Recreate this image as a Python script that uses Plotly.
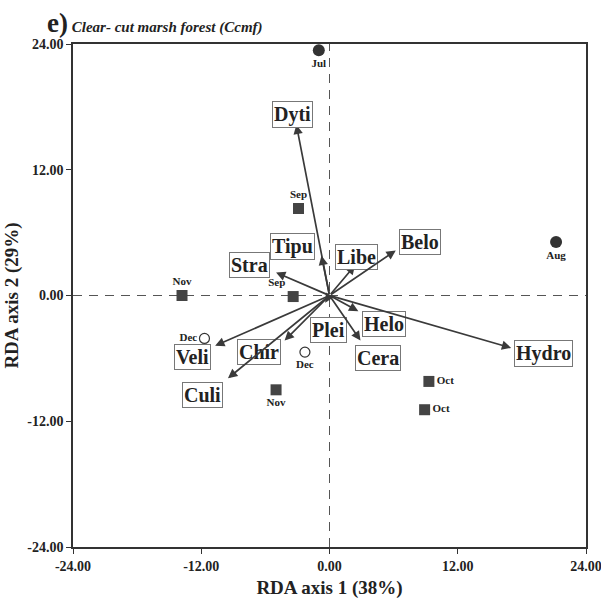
import plotly.graph_objects as go

# Sample scores (months)
sq_x = [-2.9, -3.4, -13.8, -5.0, 9.3, 8.9]
sq_y = [8.3, -0.1, 0.0, -9.0, -8.2, -10.9]
sq_lab = ["Sep", "Sep", "Nov", "Nov", "Oct", "Oct"]
sq_pos = ["top center", "top left", "top center", "bottom center", "middle right", "middle right"]

fc_x = [-1.0, 21.2]
fc_y = [23.4, 5.1]
fc_lab = ["Jul", "Aug"]

oc_x = [-11.7, -2.3]
oc_y = [-4.1, -5.4]
oc_lab = ["Dec", "Dec"]
oc_pos = ["middle left", "bottom center"]

# Taxa arrows
taxa = ["Dyti", "Tipu", "Libe", "Belo", "Stra", "Helo", "Plei", "Cera", "Hydro", "Chir", "Veli", "Culi"]
arr_x = [-3.1, -0.75, 2.4, 6.2, -5.0, 2.7, -0.4, 2.9, 17.0, -4.2, -10.7, -9.5]
arr_y = [16.3, 3.8, 2.9, 4.3, 2.2, -1.5, -0.7, -4.3, -5.0, -4.3, -4.8, -7.9]
lab_x = [-3.5, -3.5, 2.5, 8.5, -7.5, 5.1, -0.1, 4.5, 20.0, -6.6, -12.8, -11.9]
lab_y = [17.3, 4.7, 3.7, 5.1, 2.9, -2.7, -3.3, -6.0, -5.5, -5.4, -5.9, -9.5]

ticks = [-24, -12, 0, 12, 24]
tick_text = ["<b>-24.00</b>", "<b>-12.00</b>", "<b>0.00</b>", "<b>12.00</b>", "<b>24.00</b>"]

SERIF = "Liberation Serif"
DARK = "#3a3a3a"

def bold(lst):
    return ["<b>%s</b>" % s for s in lst]

fig = go.Figure()

fig.add_trace(go.Scatter(
    x=sq_x, y=sq_y, mode="markers+text", text=bold(sq_lab), textposition=sq_pos,
    marker=dict(symbol="square", size=11, color="#444444"),
    textfont=dict(family=SERIF, size=11, color="#222"), cliponaxis=False, showlegend=False))
fig.add_trace(go.Scatter(
    x=fc_x, y=fc_y, mode="markers+text", text=bold(fc_lab), textposition="bottom center",
    marker=dict(symbol="circle", size=12, color="#333333"),
    textfont=dict(family=SERIF, size=11, color="#222"), cliponaxis=False, showlegend=False))
fig.add_trace(go.Scatter(
    x=oc_x, y=oc_y, mode="markers+text", text=bold(oc_lab), textposition=oc_pos,
    marker=dict(symbol="circle-open", size=10, color="#333333", line=dict(width=1.2)),
    textfont=dict(family=SERIF, size=11, color="#222"), cliponaxis=False, showlegend=False))

annotations = []
for name, x, y, lx, ly in zip(taxa, arr_x, arr_y, lab_x, lab_y):
    annotations.append(dict(
        x=x, y=y, ax=0, ay=0, xref="x", yref="y", axref="x", ayref="y",
        showarrow=True, arrowhead=2, arrowsize=1.1, arrowwidth=1.7, arrowcolor=DARK, text=""))
    annotations.append(dict(
        x=lx, y=ly, xref="x", yref="y", text="<b>%s</b>" % name, showarrow=False,
        font=dict(family=SERIF, size=20, color="#222"),
        bordercolor="#777", borderwidth=1, borderpad=1, bgcolor="white"))

annotations.append(dict(
    x=-0.055, y=1.0, yshift=4, xref="paper", yref="paper", xanchor="left", yanchor="bottom",
    text="<b><span style='font-size:27px'>e)</span></b> <b><i>Clear- cut marsh forest (Ccmf)</i></b>",
    showarrow=False, font=dict(family=SERIF, size=15, color="#222")))

fig.update_layout(
    width=601, height=608,
    margin=dict(l=73, r=15, t=44, b=61),
    paper_bgcolor="white", plot_bgcolor="white",
    annotations=annotations,
    shapes=[
        dict(type="line", x0=0, x1=0, y0=-24, y1=24, xref="x", yref="y",
             line=dict(color="#555", width=1, dash="9px,7px"), layer="below"),
        dict(type="line", x0=-24, x1=24, y0=0, y1=0, xref="x", yref="y",
             line=dict(color="#555", width=1, dash="9px,7px"), layer="below"),
    ],
    xaxis=dict(range=[-24, 24], tickvals=ticks, ticktext=tick_text, ticks="outside",
               ticklen=5, tickcolor="#333", showgrid=False, zeroline=False, automargin=False,
               ticklabeloverflow="allow",
               showline=True, linecolor="#333", linewidth=1.5, mirror=True,
               tickfont=dict(family=SERIF, size=14, color="#222"),
               title=dict(text="<b>RDA axis 1 (38%)</b>", font=dict(family=SERIF, size=19, color="#222"), standoff=8)),
    yaxis=dict(range=[-24, 24], tickvals=ticks, ticktext=tick_text, ticks="outside",
               ticklen=5, tickcolor="#333", showgrid=False, zeroline=False, automargin=False,
               ticklabeloverflow="allow",
               showline=True, linecolor="#333", linewidth=1.5, mirror=True,
               tickfont=dict(family=SERIF, size=14, color="#222"),
               title=dict(text="<b>RDA axis 2 (29%)</b>", font=dict(family=SERIF, size=19, color="#222"), standoff=4)),
)

fig.write_html("out.html", config={"displayModeBar": False},
               post_script="document.body.style.margin='0';")
